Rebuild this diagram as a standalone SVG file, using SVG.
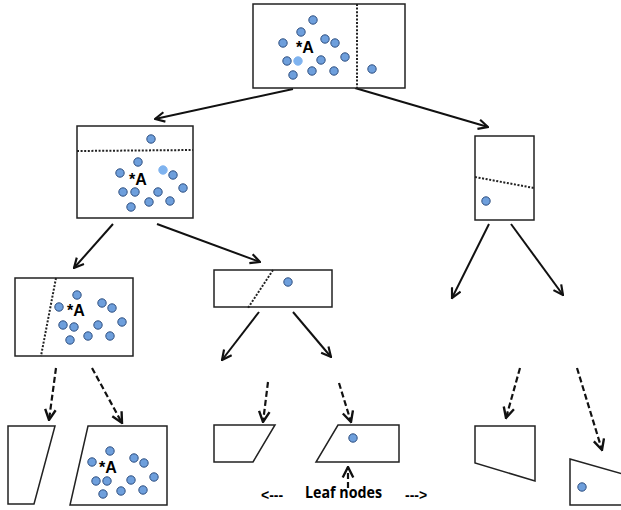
<svg xmlns="http://www.w3.org/2000/svg" width="621" height="510" viewBox="0 0 621 510">
<style>
.box{fill:#fff;stroke:#222;stroke-width:1.5}
.div{fill:none;stroke:#222;stroke-width:2;stroke-dasharray:2,1.6}
.pt{fill:#6e9fdc;stroke:#2f4f80;stroke-width:1}
.lt{fill:#7fb3ef;stroke:#7fb3ef;stroke-width:1}
.a{fill:none;stroke:#111;stroke-width:2;marker-end:url(#ah)}
.d{fill:none;stroke:#111;stroke-width:2.2;stroke-dasharray:6,3;marker-end:url(#ah)}
.lbl{font-family:"Liberation Sans",Arial,sans-serif;font-weight:bold;font-size:16px;fill:#000}
.leaf{font-family:"Open Sans","Liberation Sans",sans-serif;font-weight:bold;font-size:16px;fill:#000}
.arr{font-family:"Liberation Sans",Arial,sans-serif;font-size:14px;fill:#000}
</style>
<defs>
<marker id="ah" viewBox="0 0 10 10" refX="9" refY="5" markerWidth="6" markerHeight="6" orient="auto" markerUnits="strokeWidth">
<polyline points="1,1 9,5 1,9" fill="none" stroke="#111" stroke-width="1.8"/>
</marker>
</defs>
<g id="connectors">
<line class="a" x1="293" y1="89" x2="155" y2="119"/>
<line class="a" x1="355" y1="88" x2="488" y2="127"/>
<line class="a" x1="113" y1="224" x2="74" y2="268"/>
<line class="a" x1="157" y1="224" x2="260" y2="262"/>
<line class="a" x1="489" y1="224" x2="452" y2="298"/>
<line class="a" x1="511" y1="224" x2="563" y2="295"/>
<line class="a" x1="259" y1="312" x2="222" y2="360"/>
<line class="a" x1="293" y1="312" x2="331" y2="357"/>
<line class="d" x1="56" y1="368" x2="49" y2="420"/>
<line class="d" x1="92" y1="368" x2="122" y2="423"/>
<line class="d" x1="268" y1="382" x2="263" y2="422"/>
<line class="d" x1="339" y1="383" x2="351" y2="422"/>
<line class="d" x1="520" y1="368" x2="506" y2="418"/>
<line class="d" x1="577" y1="368" x2="602" y2="450"/>
<line class="d" x1="348" y1="488" x2="348" y2="467"/>
</g>
<g id="root">
<rect class="box" x="253" y="4" width="152" height="84"/>
<line class="div" x1="357" y1="4" x2="357" y2="88"/>
<circle class="pt" cx="313" cy="20" r="4.2"/>
<circle class="pt" cx="301" cy="32" r="4.2"/>
<circle class="pt" cx="283" cy="43" r="4.2"/>
<circle class="pt" cx="325" cy="39" r="4.2"/>
<circle class="pt" cx="335" cy="43" r="4.2"/>
<circle class="pt" cx="345" cy="57" r="4.2"/>
<circle class="pt" cx="287" cy="61" r="4.2"/>
<circle class="lt" cx="298" cy="61" r="4.2"/>
<circle class="pt" cx="321" cy="60" r="4.2"/>
<circle class="pt" cx="293" cy="75" r="4.2"/>
<circle class="pt" cx="312" cy="71" r="4.2"/>
<circle class="pt" cx="334" cy="71" r="4.2"/>
<circle class="pt" cx="372" cy="69" r="4.2"/>
<text class="lbl" x="296" y="53">*A</text>
</g>
<g id="n-left">
<rect class="box" x="77" y="126" width="116" height="92"/>
<line class="div" x1="77" y1="151" x2="193" y2="150"/>
<circle class="pt" cx="151" cy="139" r="4.2"/>
<circle class="pt" cx="138" cy="162" r="4.2"/>
<circle class="pt" cx="120" cy="173" r="4.2"/>
<circle class="lt" cx="163" cy="170" r="4.2"/>
<circle class="pt" cx="173" cy="175" r="4.2"/>
<circle class="pt" cx="123" cy="192" r="4.2"/>
<circle class="pt" cx="135" cy="192" r="4.2"/>
<circle class="pt" cx="158" cy="192" r="4.2"/>
<circle class="pt" cx="183" cy="188" r="4.2"/>
<circle class="pt" cx="131" cy="207" r="4.2"/>
<circle class="pt" cx="149" cy="202" r="4.2"/>
<circle class="pt" cx="170" cy="201" r="4.2"/>
<text class="lbl" x="129" y="185">*A</text>
</g>
<g id="n-right">
<rect class="box" x="475" y="136" width="59" height="84"/>
<line class="div" x1="475" y1="177" x2="534" y2="188"/>
<circle class="pt" cx="486" cy="201" r="4.2"/>
</g>
<g id="n-ll">
<rect class="box" x="15" y="278" width="118" height="78"/>
<line class="div" x1="56" y1="278" x2="41" y2="356"/>
<circle class="pt" cx="77" cy="295" r="4.2"/>
<circle class="pt" cx="59" cy="307" r="4.2"/>
<circle class="pt" cx="102" cy="303" r="4.2"/>
<circle class="pt" cx="112" cy="308" r="4.2"/>
<circle class="pt" cx="122" cy="322" r="4.2"/>
<circle class="pt" cx="63" cy="325" r="4.2"/>
<circle class="pt" cx="74" cy="327" r="4.2"/>
<circle class="pt" cx="98" cy="325" r="4.2"/>
<circle class="pt" cx="70" cy="340" r="4.2"/>
<circle class="pt" cx="88" cy="336" r="4.2"/>
<circle class="pt" cx="110" cy="336" r="4.2"/>
<text class="lbl" x="67" y="316">*A</text>
</g>
<g id="n-lm">
<rect class="box" x="214" y="270" width="118" height="37"/>
<line class="div" x1="273" y1="270" x2="248" y2="308"/>
<circle class="pt" cx="288" cy="282" r="4.2"/>
</g>
<g id="leaf1">
<polygon class="box" points="8,426 55,426 34,504 8,504"/>
</g>
<g id="leaf2">
<polygon class="box" points="88,426 167,426 167,505 70,505"/>
<circle class="pt" cx="110" cy="451" r="4.2"/>
<circle class="pt" cx="92" cy="462" r="4.2"/>
<circle class="pt" cx="134" cy="458" r="4.2"/>
<circle class="pt" cx="144" cy="463" r="4.2"/>
<circle class="pt" cx="154" cy="477" r="4.2"/>
<circle class="pt" cx="96" cy="481" r="4.2"/>
<circle class="pt" cx="107" cy="481" r="4.2"/>
<circle class="pt" cx="131" cy="480" r="4.2"/>
<circle class="pt" cx="103" cy="494" r="4.2"/>
<circle class="pt" cx="121" cy="491" r="4.2"/>
<circle class="pt" cx="143" cy="490" r="4.2"/>
<text class="lbl" x="99" y="473">*A</text>
</g>
<g id="leaf3">
<polygon class="box" points="214,425 275,425 253,462 214,462"/>
</g>
<g id="leaf4">
<polygon class="box" points="338,425 399,425 399,462 316,462"/>
<circle class="pt" cx="353" cy="438" r="4.2"/>
</g>
<g id="leaf5">
<polygon class="box" points="475,426 535,426 535,481 475,463"/>
</g>
<g id="leaf6">
<polygon class="box" points="570,459 623,474 623,505 570,505"/>
<circle class="pt" cx="582" cy="487" r="4.2"/>
</g>
<g id="caption">
<text class="arr" x="261" y="500" font-weight="bold">&lt;---</text>
<text class="leaf" x="305" y="498" textLength="77" lengthAdjust="spacingAndGlyphs">Leaf nodes</text>
<text class="arr" x="405" y="500" font-weight="bold">---&gt;</text>
</g>
</svg>
